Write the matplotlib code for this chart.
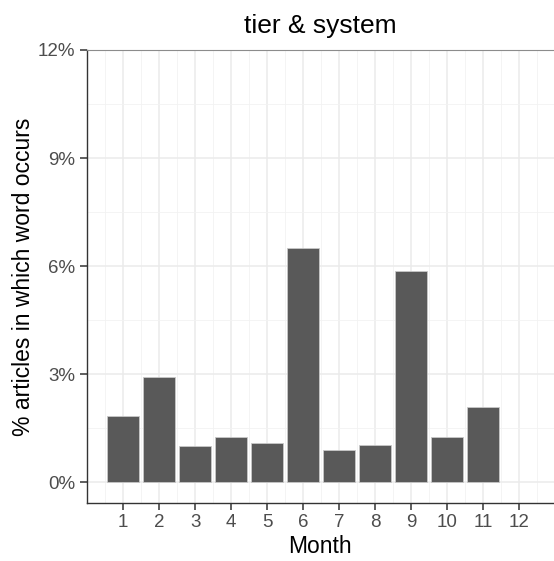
import matplotlib
matplotlib.use('Agg')
import matplotlib.pyplot as plt
from matplotlib.ticker import FuncFormatter, MultipleLocator

# Share of articles per month (percent)
months = [1, 2, 3, 4, 5, 6, 7, 8, 9, 10, 11, 12]
share = [1.85, 2.92, 1.00, 1.27, 1.10, 6.50, 0.91, 1.03, 5.87, 1.27, 2.08, 0.0]
yticks = [0, 3, 6, 9, 12]

plt.rcParams['font.family'] = ['Liberation Sans', 'DejaVu Sans']

fig = plt.figure(figsize=(5.54, 5.61), dpi=100)
ax = fig.add_axes([86.5 / 554, 1 - 503 / 561, (554 - 86.5) / 554, (503 - 50) / 561])

# skip the empty month so no outline is drawn on the baseline
bx = [m for m, v in zip(months, share) if v > 0]
bh = [v for v in share if v > 0]
ax.bar(bx, bh, width=0.9, color='#595959', edgecolor='#c8c8c8', linewidth=0.6, zorder=3)

ax.set_xlim(-0.02, 12.97)
ax.set_ylim(-0.57, 12)
ax.set_xticks(months)
ax.set_yticks(yticks)
ax.xaxis.set_minor_locator(MultipleLocator(1, offset=0.5))
ax.yaxis.set_minor_locator(MultipleLocator(3, offset=1.5))
ax.yaxis.set_major_formatter(FuncFormatter(lambda v, p: '%d%%' % v))

ax.grid(which='major', color='#ebebeb', linewidth=1.1, zorder=0)
ax.grid(which='minor', color='#f2f2f2', linewidth=0.6, zorder=0)
ax.set_axisbelow(True)

ax.spines['right'].set_visible(False)
ax.spines['top'].set_color('#8c8c8c')
ax.spines['top'].set_linewidth(0.8)
ax.spines['left'].set_color('#333333')
ax.spines['bottom'].set_color('#333333')
ax.spines['left'].set_linewidth(1.0)
ax.spines['bottom'].set_linewidth(1.0)

ax.tick_params(which='major', length=5, width=1.1, color='#333333',
               labelsize=13.5, labelcolor='#4d4d4d', pad=3)
ax.tick_params(which='minor', length=0)

ax.set_xlabel('Month', fontsize=16.5, color='black', labelpad=3)
ax.set_ylabel('% articles in which word occurs', fontsize=16.5, color='black', labelpad=2)
ax.set_title('tier & system', fontsize=19, color='black', pad=12)

fig.savefig('out.png', dpi=100)
